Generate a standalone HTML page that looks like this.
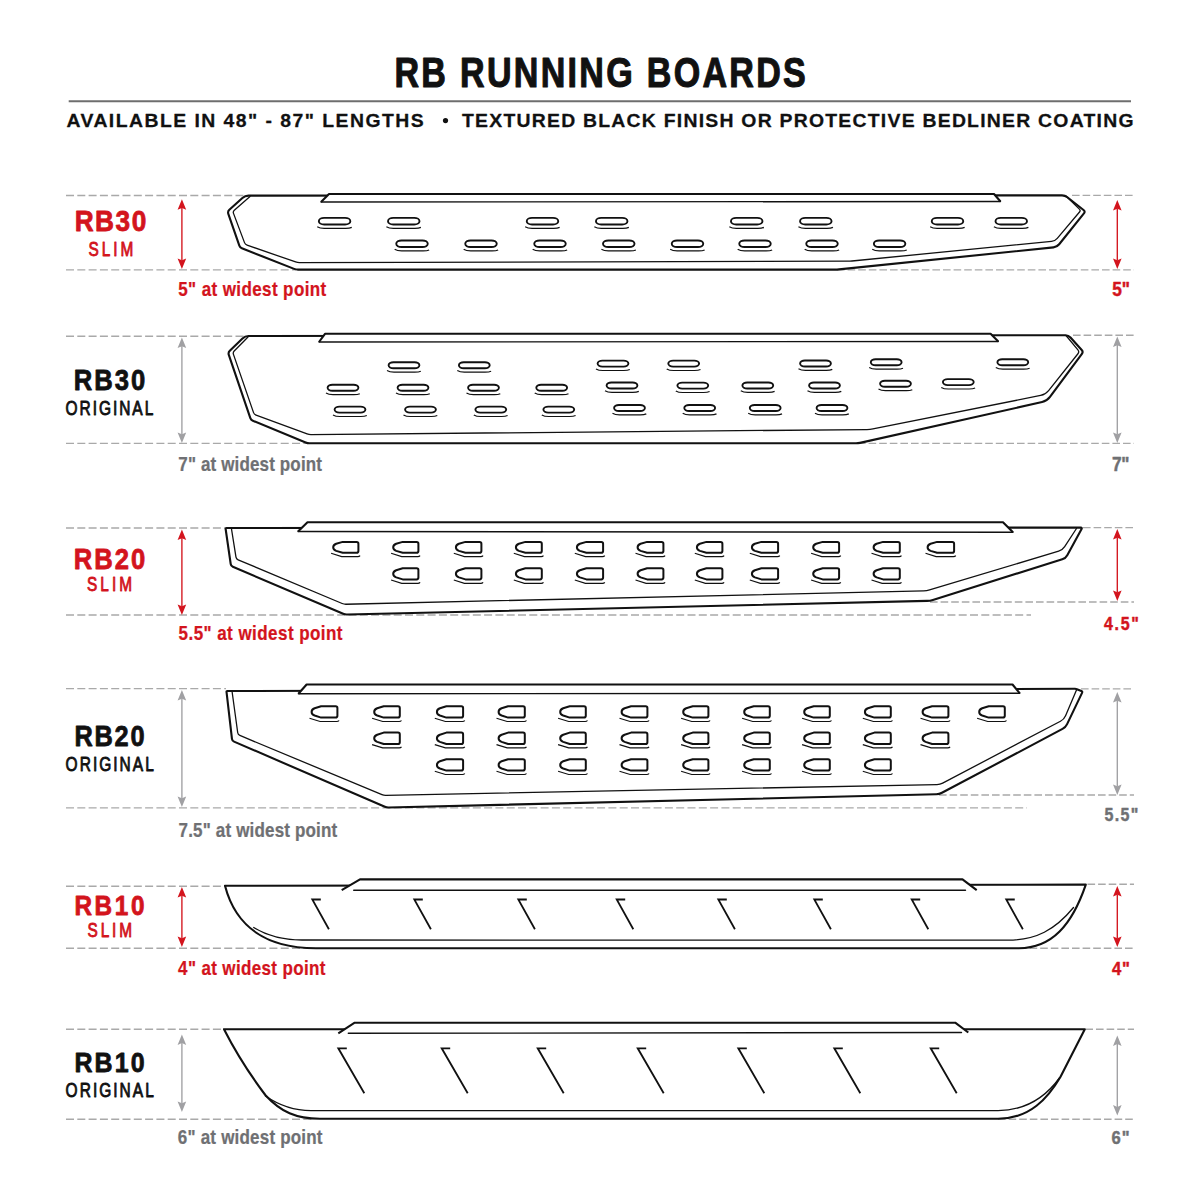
<!DOCTYPE html><html><head><meta charset="utf-8"><title>RB Running Boards</title><style>html,body{margin:0;padding:0;background:#fff;width:1200px;height:1200px;overflow:hidden}svg{display:block}text{font-family:"Liberation Sans",sans-serif}</style></head><body><svg width="1200" height="1200" viewBox="0 0 1200 1200"><rect width="1200" height="1200" fill="#fff"/>
<line x1="68.7" y1="101.2" x2="1131" y2="101.2" stroke="#6e6e6e" stroke-width="2"/>
<circle cx="445.5" cy="120.6" r="2.6" fill="#111111"/>
<line x1="66" y1="195.5" x2="247" y2="195.5" stroke="#a9a9a9" stroke-width="1.35" stroke-dasharray="8.0 3.30"/>
<line x1="1072" y1="195.3" x2="1134" y2="195.3" stroke="#a9a9a9" stroke-width="1.35" stroke-dasharray="7.6 3.00"/>
<line x1="66" y1="269.8" x2="296" y2="269.8" stroke="#a9a9a9" stroke-width="1.35" stroke-dasharray="8.0 3.30"/>
<line x1="837" y1="269.8" x2="1134" y2="269.8" stroke="#a9a9a9" stroke-width="1.35" stroke-dasharray="7.6 3.00"/>
<line x1="66" y1="336.2" x2="245" y2="336.2" stroke="#a9a9a9" stroke-width="1.35" stroke-dasharray="8.0 3.30"/>
<line x1="1073" y1="335.2" x2="1134" y2="335.2" stroke="#a9a9a9" stroke-width="1.35" stroke-dasharray="7.6 3.00"/>
<line x1="66" y1="443.3" x2="307" y2="443.3" stroke="#a9a9a9" stroke-width="1.35" stroke-dasharray="8.0 3.30"/>
<line x1="858" y1="443.3" x2="1134" y2="443.3" stroke="#a9a9a9" stroke-width="1.35" stroke-dasharray="7.6 3.00"/>
<line x1="66" y1="528.0" x2="225" y2="528.0" stroke="#a9a9a9" stroke-width="1.35" stroke-dasharray="8.0 3.30"/>
<line x1="1083" y1="527.6" x2="1134" y2="527.6" stroke="#a9a9a9" stroke-width="1.35" stroke-dasharray="7.6 3.00"/>
<line x1="930" y1="602.0" x2="1134" y2="602.0" stroke="#a9a9a9" stroke-width="1.35" stroke-dasharray="7.6 3.00"/>
<line x1="66" y1="688.6" x2="226" y2="688.6" stroke="#a9a9a9" stroke-width="1.35" stroke-dasharray="8.0 3.30"/>
<line x1="1081" y1="688.8" x2="1134" y2="688.8" stroke="#a9a9a9" stroke-width="1.35" stroke-dasharray="7.6 3.00"/>
<line x1="939" y1="795.0" x2="1134" y2="795.0" stroke="#a9a9a9" stroke-width="1.35" stroke-dasharray="7.6 3.00"/>
<line x1="66" y1="886.2" x2="225" y2="886.2" stroke="#a9a9a9" stroke-width="1.35" stroke-dasharray="8.0 3.30"/>
<line x1="1087.5" y1="884.2" x2="1134" y2="884.2" stroke="#a9a9a9" stroke-width="1.35" stroke-dasharray="7.6 3.00"/>
<line x1="66" y1="948.2" x2="312" y2="948.2" stroke="#a9a9a9" stroke-width="1.35" stroke-dasharray="8.0 3.30"/>
<line x1="1019" y1="948.2" x2="1134" y2="948.2" stroke="#a9a9a9" stroke-width="1.35" stroke-dasharray="7.6 3.00"/>
<line x1="66" y1="1029.2" x2="224" y2="1029.2" stroke="#a9a9a9" stroke-width="1.35" stroke-dasharray="8.0 3.30"/>
<line x1="1085.4" y1="1029.2" x2="1134" y2="1029.2" stroke="#a9a9a9" stroke-width="1.35" stroke-dasharray="7.6 3.00"/>
<line x1="66" y1="1119.2" x2="312" y2="1119.2" stroke="#a9a9a9" stroke-width="1.35" stroke-dasharray="8.0 3.30"/>
<line x1="998" y1="1119.2" x2="1134" y2="1119.2" stroke="#a9a9a9" stroke-width="1.35" stroke-dasharray="7.6 3.00"/>
<line x1="66" y1="615.0" x2="1031" y2="615.0" stroke="#a9a9a9" stroke-width="1.35" stroke-dasharray="8.0 3.30"/>
<line x1="66" y1="807.9" x2="1027" y2="807.9" stroke="#a9a9a9" stroke-width="1.35" stroke-dasharray="8.0 3.30"/>
<path d="M1062.00,195.40 Q1065.00,195.40 1067.36,197.25 L1083.53,209.96 Q1085.50,211.50 1083.93,213.45 L1059.19,244.27 Q1057.00,247.00 1053.52,247.36 L838.99,269.40 Q837.00,269.60 835.00,269.60 L298.00,269.60 Q296.00,269.60 294.14,268.87 L241.86,248.23 Q240.00,247.50 239.34,245.61 L228.32,213.86 Q227.50,211.50 229.35,209.82 L242.41,197.95 Q245.00,195.60 248.50,195.60 Z" fill="#fff" stroke="#111111" stroke-width="2.1" stroke-linejoin="round"/>
<path d="M250.00,196.50 L234.31,210.19 Q232.80,211.50 233.50,213.37 L244.50,242.63 Q245.20,244.50 247.09,245.15 L295.61,261.95 Q297.50,262.60 299.50,262.59 L848.00,261.21 Q850.00,261.20 851.99,261.00 L1051.52,241.34 Q1055.00,241.00 1057.26,238.33 L1079.51,212.03 Q1080.80,210.50 1079.37,209.10 L1066.00,196.00" fill="none" stroke="#111111" stroke-width="1.3" stroke-linejoin="round" stroke-linecap="round"/>
<path d="M321,202 L329,194 L994,194 L1000.5,201.5" fill="#fff" stroke="#111111" stroke-width="2.1" stroke-linejoin="round"/>
<path d="M321,202.00 L1000.5,201.50" fill="none" stroke="#111111" stroke-width="1.4" stroke-linejoin="round" stroke-linecap="round"/>
<rect x="318.85" y="217.90" width="31.5" height="6.6" rx="5.28" ry="3.3" fill="none" stroke="#111111" stroke-width="1.9"/>
<path d="M317.25,226.80 Q319.75,228.40 324.25,228.40 L345.75,228.40 Q349.75,228.40 351.75,227.40" fill="none" stroke="#111111" stroke-width="1.2"/>
<rect x="388.00" y="217.90" width="31.5" height="6.6" rx="5.28" ry="3.3" fill="none" stroke="#111111" stroke-width="1.9"/>
<path d="M386.40,226.80 Q388.90,228.40 393.40,228.40 L414.90,228.40 Q418.90,228.40 420.90,227.40" fill="none" stroke="#111111" stroke-width="1.2"/>
<rect x="526.75" y="217.90" width="31.5" height="6.6" rx="5.28" ry="3.3" fill="none" stroke="#111111" stroke-width="1.9"/>
<path d="M525.15,226.80 Q527.65,228.40 532.15,228.40 L553.65,228.40 Q557.65,228.40 559.65,227.40" fill="none" stroke="#111111" stroke-width="1.2"/>
<rect x="595.95" y="217.90" width="31.5" height="6.6" rx="5.28" ry="3.3" fill="none" stroke="#111111" stroke-width="1.9"/>
<path d="M594.35,226.80 Q596.85,228.40 601.35,228.40 L622.85,228.40 Q626.85,228.40 628.85,227.40" fill="none" stroke="#111111" stroke-width="1.2"/>
<rect x="730.95" y="217.90" width="31.5" height="6.6" rx="5.28" ry="3.3" fill="none" stroke="#111111" stroke-width="1.9"/>
<path d="M729.35,226.80 Q731.85,228.40 736.35,228.40 L757.85,228.40 Q761.85,228.40 763.85,227.40" fill="none" stroke="#111111" stroke-width="1.2"/>
<rect x="800.05" y="217.90" width="31.5" height="6.6" rx="5.28" ry="3.3" fill="none" stroke="#111111" stroke-width="1.9"/>
<path d="M798.45,226.80 Q800.95,228.40 805.45,228.40 L826.95,228.40 Q830.95,228.40 832.95,227.40" fill="none" stroke="#111111" stroke-width="1.2"/>
<rect x="931.75" y="217.90" width="31.5" height="6.6" rx="5.28" ry="3.3" fill="none" stroke="#111111" stroke-width="1.9"/>
<path d="M930.15,226.80 Q932.65,228.40 937.15,228.40 L958.65,228.40 Q962.65,228.40 964.65,227.40" fill="none" stroke="#111111" stroke-width="1.2"/>
<rect x="995.50" y="217.90" width="31.5" height="6.6" rx="5.28" ry="3.3" fill="none" stroke="#111111" stroke-width="1.9"/>
<path d="M993.90,226.80 Q996.40,228.40 1000.90,228.40 L1022.40,228.40 Q1026.40,228.40 1028.40,227.40" fill="none" stroke="#111111" stroke-width="1.2"/>
<rect x="396.25" y="240.45" width="31.5" height="6.6" rx="5.28" ry="3.3" fill="none" stroke="#111111" stroke-width="1.9"/>
<path d="M394.65,249.35 Q397.15,250.95 401.65,250.95 L423.15,250.95 Q427.15,250.95 429.15,249.95" fill="none" stroke="#111111" stroke-width="1.2"/>
<rect x="465.25" y="240.45" width="31.5" height="6.6" rx="5.28" ry="3.3" fill="none" stroke="#111111" stroke-width="1.9"/>
<path d="M463.65,249.35 Q466.15,250.95 470.65,250.95 L492.15,250.95 Q496.15,250.95 498.15,249.95" fill="none" stroke="#111111" stroke-width="1.2"/>
<rect x="534.25" y="240.45" width="31.5" height="6.6" rx="5.28" ry="3.3" fill="none" stroke="#111111" stroke-width="1.9"/>
<path d="M532.65,249.35 Q535.15,250.95 539.65,250.95 L561.15,250.95 Q565.15,250.95 567.15,249.95" fill="none" stroke="#111111" stroke-width="1.2"/>
<rect x="603.00" y="240.45" width="31.5" height="6.6" rx="5.28" ry="3.3" fill="none" stroke="#111111" stroke-width="1.9"/>
<path d="M601.40,249.35 Q603.90,250.95 608.40,250.95 L629.90,250.95 Q633.90,250.95 635.90,249.95" fill="none" stroke="#111111" stroke-width="1.2"/>
<rect x="671.75" y="240.45" width="31.5" height="6.6" rx="5.28" ry="3.3" fill="none" stroke="#111111" stroke-width="1.9"/>
<path d="M670.15,249.35 Q672.65,250.95 677.15,250.95 L698.65,250.95 Q702.65,250.95 704.65,249.95" fill="none" stroke="#111111" stroke-width="1.2"/>
<rect x="739.25" y="240.45" width="31.5" height="6.6" rx="5.28" ry="3.3" fill="none" stroke="#111111" stroke-width="1.9"/>
<path d="M737.65,249.35 Q740.15,250.95 744.65,250.95 L766.15,250.95 Q770.15,250.95 772.15,249.95" fill="none" stroke="#111111" stroke-width="1.2"/>
<rect x="806.25" y="240.45" width="31.5" height="6.6" rx="5.28" ry="3.3" fill="none" stroke="#111111" stroke-width="1.9"/>
<path d="M804.65,249.35 Q807.15,250.95 811.65,250.95 L833.15,250.95 Q837.15,250.95 839.15,249.95" fill="none" stroke="#111111" stroke-width="1.2"/>
<rect x="873.85" y="240.45" width="31.5" height="6.6" rx="5.28" ry="3.3" fill="none" stroke="#111111" stroke-width="1.9"/>
<path d="M872.25,249.35 Q874.75,250.95 879.25,250.95 L900.75,250.95 Q904.75,250.95 906.75,249.95" fill="none" stroke="#111111" stroke-width="1.2"/>
<path d="M1065.50,335.20 Q1068.50,335.20 1070.50,337.43 L1081.73,349.94 Q1083.40,351.80 1081.91,353.81 L1049.97,396.98 Q1047.00,401.00 1042.12,402.09 L859.95,442.86 Q858.00,443.30 856.00,443.30 L309.50,443.30 Q307.50,443.30 305.65,442.54 L252.85,420.76 Q251.00,420.00 250.35,418.11 L228.81,354.87 Q228.00,352.50 229.79,350.76 L242.49,338.44 Q245.00,336.00 248.50,336.00 Z" fill="#fff" stroke="#111111" stroke-width="2.1" stroke-linejoin="round"/>
<path d="M248.00,337.00 L234.20,351.07 Q232.80,352.50 233.45,354.39 L253.55,412.61 Q254.20,414.50 256.08,415.19 L307.12,433.91 Q309.00,434.60 311.00,434.58 L867.00,429.53 Q870.00,429.50 872.94,428.91 L1040.60,395.48 Q1045.50,394.50 1048.61,390.59 L1077.94,353.76 Q1079.50,351.80 1077.91,349.87 L1066.00,335.50" fill="none" stroke="#111111" stroke-width="1.3" stroke-linejoin="round" stroke-linecap="round"/>
<path d="M319,342 L325,333.8 L990.6,333.8 L998.3,341.5" fill="#fff" stroke="#111111" stroke-width="2.1" stroke-linejoin="round"/>
<path d="M319,342.00 L998.3,341.50" fill="none" stroke="#111111" stroke-width="1.4" stroke-linejoin="round" stroke-linecap="round"/>
<rect x="388.60" y="362.30" width="30.8" height="6.0" rx="4.80" ry="3.0" fill="none" stroke="#111111" stroke-width="1.9"/>
<path d="M387.00,370.60 Q389.50,372.20 394.00,372.20 L414.80,372.20 Q418.80,372.20 420.80,371.20" fill="none" stroke="#111111" stroke-width="1.2"/>
<rect x="458.90" y="362.30" width="30.8" height="6.0" rx="4.80" ry="3.0" fill="none" stroke="#111111" stroke-width="1.9"/>
<path d="M457.30,370.60 Q459.80,372.20 464.30,372.20 L485.10,372.20 Q489.10,372.20 491.10,371.20" fill="none" stroke="#111111" stroke-width="1.2"/>
<rect x="597.60" y="360.60" width="30.8" height="6.0" rx="4.80" ry="3.0" fill="none" stroke="#111111" stroke-width="1.9"/>
<path d="M596.00,368.90 Q598.50,370.50 603.00,370.50 L623.80,370.50 Q627.80,370.50 629.80,369.50" fill="none" stroke="#111111" stroke-width="1.2"/>
<rect x="668.30" y="360.60" width="30.8" height="6.0" rx="4.80" ry="3.0" fill="none" stroke="#111111" stroke-width="1.9"/>
<path d="M666.70,368.90 Q669.20,370.50 673.70,370.50 L694.50,370.50 Q698.50,370.50 700.50,369.50" fill="none" stroke="#111111" stroke-width="1.2"/>
<rect x="800.10" y="360.50" width="30.8" height="6.0" rx="4.80" ry="3.0" fill="none" stroke="#111111" stroke-width="1.9"/>
<path d="M798.50,368.80 Q801.00,370.40 805.50,370.40 L826.30,370.40 Q830.30,370.40 832.30,369.40" fill="none" stroke="#111111" stroke-width="1.2"/>
<rect x="870.80" y="359.30" width="30.8" height="6.0" rx="4.80" ry="3.0" fill="none" stroke="#111111" stroke-width="1.9"/>
<path d="M869.20,367.60 Q871.70,369.20 876.20,369.20 L897.00,369.20 Q901.00,369.20 903.00,368.20" fill="none" stroke="#111111" stroke-width="1.2"/>
<rect x="997.40" y="359.30" width="30.8" height="6.0" rx="4.80" ry="3.0" fill="none" stroke="#111111" stroke-width="1.9"/>
<path d="M995.80,367.60 Q998.30,369.20 1002.80,369.20 L1023.60,369.20 Q1027.60,369.20 1029.60,368.20" fill="none" stroke="#111111" stroke-width="1.2"/>
<rect x="327.60" y="384.80" width="30.8" height="6.0" rx="4.80" ry="3.0" fill="none" stroke="#111111" stroke-width="1.9"/>
<path d="M326.00,393.10 Q328.50,394.70 333.00,394.70 L353.80,394.70 Q357.80,394.70 359.80,393.70" fill="none" stroke="#111111" stroke-width="1.2"/>
<rect x="397.60" y="384.80" width="30.8" height="6.0" rx="4.80" ry="3.0" fill="none" stroke="#111111" stroke-width="1.9"/>
<path d="M396.00,393.10 Q398.50,394.70 403.00,394.70 L423.80,394.70 Q427.80,394.70 429.80,393.70" fill="none" stroke="#111111" stroke-width="1.2"/>
<rect x="468.10" y="384.80" width="30.8" height="6.0" rx="4.80" ry="3.0" fill="none" stroke="#111111" stroke-width="1.9"/>
<path d="M466.50,393.10 Q469.00,394.70 473.50,394.70 L494.30,394.70 Q498.30,394.70 500.30,393.70" fill="none" stroke="#111111" stroke-width="1.2"/>
<rect x="536.30" y="384.80" width="30.8" height="6.0" rx="4.80" ry="3.0" fill="none" stroke="#111111" stroke-width="1.9"/>
<path d="M534.70,393.10 Q537.20,394.70 541.70,394.70 L562.50,394.70 Q566.50,394.70 568.50,393.70" fill="none" stroke="#111111" stroke-width="1.2"/>
<rect x="606.60" y="382.50" width="30.8" height="6.0" rx="4.80" ry="3.0" fill="none" stroke="#111111" stroke-width="1.9"/>
<path d="M605.00,390.80 Q607.50,392.40 612.00,392.40 L632.80,392.40 Q636.80,392.40 638.80,391.40" fill="none" stroke="#111111" stroke-width="1.2"/>
<rect x="677.40" y="382.60" width="30.8" height="6.0" rx="4.80" ry="3.0" fill="none" stroke="#111111" stroke-width="1.9"/>
<path d="M675.80,390.90 Q678.30,392.50 682.80,392.50 L703.60,392.50 Q707.60,392.50 709.60,391.50" fill="none" stroke="#111111" stroke-width="1.2"/>
<rect x="742.40" y="382.50" width="30.8" height="6.0" rx="4.80" ry="3.0" fill="none" stroke="#111111" stroke-width="1.9"/>
<path d="M740.80,390.80 Q743.30,392.40 747.80,392.40 L768.60,392.40 Q772.60,392.40 774.60,391.40" fill="none" stroke="#111111" stroke-width="1.2"/>
<rect x="809.10" y="382.50" width="30.8" height="6.0" rx="4.80" ry="3.0" fill="none" stroke="#111111" stroke-width="1.9"/>
<path d="M807.50,390.80 Q810.00,392.40 814.50,392.40 L835.30,392.40 Q839.30,392.40 841.30,391.40" fill="none" stroke="#111111" stroke-width="1.2"/>
<rect x="880.10" y="380.80" width="30.8" height="6.0" rx="4.80" ry="3.0" fill="none" stroke="#111111" stroke-width="1.9"/>
<path d="M878.50,389.10 Q881.00,390.70 885.50,390.70 L906.30,390.70 Q910.30,390.70 912.30,389.70" fill="none" stroke="#111111" stroke-width="1.2"/>
<rect x="942.90" y="379.10" width="30.8" height="6.0" rx="4.80" ry="3.0" fill="none" stroke="#111111" stroke-width="1.9"/>
<path d="M941.30,387.40 Q943.80,389.00 948.30,389.00 L969.10,389.00 Q973.10,389.00 975.10,388.00" fill="none" stroke="#111111" stroke-width="1.2"/>
<rect x="334.60" y="406.60" width="30.8" height="6.0" rx="4.80" ry="3.0" fill="none" stroke="#111111" stroke-width="1.9"/>
<path d="M333.00,414.90 Q335.50,416.50 340.00,416.50 L360.80,416.50 Q364.80,416.50 366.80,415.50" fill="none" stroke="#111111" stroke-width="1.2"/>
<rect x="405.10" y="406.60" width="30.8" height="6.0" rx="4.80" ry="3.0" fill="none" stroke="#111111" stroke-width="1.9"/>
<path d="M403.50,414.90 Q406.00,416.50 410.50,416.50 L431.30,416.50 Q435.30,416.50 437.30,415.50" fill="none" stroke="#111111" stroke-width="1.2"/>
<rect x="475.40" y="406.60" width="30.8" height="6.0" rx="4.80" ry="3.0" fill="none" stroke="#111111" stroke-width="1.9"/>
<path d="M473.80,414.90 Q476.30,416.50 480.80,416.50 L501.60,416.50 Q505.60,416.50 507.60,415.50" fill="none" stroke="#111111" stroke-width="1.2"/>
<rect x="543.40" y="406.60" width="30.8" height="6.0" rx="4.80" ry="3.0" fill="none" stroke="#111111" stroke-width="1.9"/>
<path d="M541.80,414.90 Q544.30,416.50 548.80,416.50 L569.60,416.50 Q573.60,416.50 575.60,415.50" fill="none" stroke="#111111" stroke-width="1.2"/>
<rect x="614.10" y="405.00" width="30.8" height="6.0" rx="4.80" ry="3.0" fill="none" stroke="#111111" stroke-width="1.9"/>
<path d="M612.50,413.30 Q615.00,414.90 619.50,414.90 L640.30,414.90 Q644.30,414.90 646.30,413.90" fill="none" stroke="#111111" stroke-width="1.2"/>
<rect x="684.30" y="405.00" width="30.8" height="6.0" rx="4.80" ry="3.0" fill="none" stroke="#111111" stroke-width="1.9"/>
<path d="M682.70,413.30 Q685.20,414.90 689.70,414.90 L710.50,414.90 Q714.50,414.90 716.50,413.90" fill="none" stroke="#111111" stroke-width="1.2"/>
<rect x="749.80" y="405.00" width="30.8" height="6.0" rx="4.80" ry="3.0" fill="none" stroke="#111111" stroke-width="1.9"/>
<path d="M748.20,413.30 Q750.70,414.90 755.20,414.90 L776.00,414.90 Q780.00,414.90 782.00,413.90" fill="none" stroke="#111111" stroke-width="1.2"/>
<rect x="816.60" y="405.00" width="30.8" height="6.0" rx="4.80" ry="3.0" fill="none" stroke="#111111" stroke-width="1.9"/>
<path d="M815.00,413.30 Q817.50,414.90 822.00,414.90 L842.80,414.90 Q846.80,414.90 848.80,413.90" fill="none" stroke="#111111" stroke-width="1.2"/>
<path d="M1080.80,527.60 Q1082.30,527.60 1081.58,528.92 L1067.27,555.23 Q1065.60,558.30 1062.26,559.35 L932.86,599.90 Q930.00,600.80 927.00,600.87 L347.00,614.55 Q345.00,614.60 343.16,613.82 L232.84,566.78 Q231.00,566.00 230.71,564.02 L225.64,528.99 Q225.50,528.00 226.50,528.00 Z" fill="#fff" stroke="#111111" stroke-width="2.1" stroke-linejoin="round"/>
<path d="M231.50,529.00 L235.98,557.03 Q236.30,559.00 238.14,559.78 L342.16,603.52 Q344.00,604.30 346.00,604.25 L923.70,590.87 Q926.70,590.80 929.57,589.94 L1058.67,551.15 Q1062.50,550.00 1064.68,546.65 L1076.50,528.50" fill="none" stroke="#111111" stroke-width="1.3" stroke-linejoin="round" stroke-linecap="round"/>
<path d="M298,531.5 L307.5,522.2 L1003,522.2 L1013,532.3" fill="#fff" stroke="#111111" stroke-width="2.1" stroke-linejoin="round"/>
<path d="M298,531.50 L1013,532.30" fill="none" stroke="#111111" stroke-width="1.4" stroke-linejoin="round" stroke-linecap="round"/>
<path d="M333.20,547.30 C333.20,545.10 334.70,544.30 336.20,543.70 L342.70,541.90 L356.60,541.90 Q358.40,541.90 358.40,543.70 L358.40,550.90 Q358.40,552.70 356.60,552.70 L342.70,552.70 L336.20,550.90 C334.70,550.30 333.20,549.50 333.20,547.30 Z" fill="none" stroke="#111111" stroke-width="2.0" stroke-linejoin="round"/>
<path d="M331.10,553.30 L341.70,556.60 L357.80,556.60 Q359.30,556.60 360.10,555.60" fill="none" stroke="#111111" stroke-width="1.2"/>
<path d="M393.20,547.30 C393.20,545.10 394.70,544.30 396.20,543.70 L402.70,541.90 L416.60,541.90 Q418.40,541.90 418.40,543.70 L418.40,550.90 Q418.40,552.70 416.60,552.70 L402.70,552.70 L396.20,550.90 C394.70,550.30 393.20,549.50 393.20,547.30 Z" fill="none" stroke="#111111" stroke-width="2.0" stroke-linejoin="round"/>
<path d="M391.10,553.30 L401.70,556.60 L417.80,556.60 Q419.30,556.60 420.10,555.60" fill="none" stroke="#111111" stroke-width="1.2"/>
<path d="M455.90,547.30 C455.90,545.10 457.40,544.30 458.90,543.70 L465.40,541.90 L479.60,541.90 Q481.40,541.90 481.40,543.70 L481.40,550.90 Q481.40,552.70 479.60,552.70 L465.40,552.70 L458.90,550.90 C457.40,550.30 455.90,549.50 455.90,547.30 Z" fill="none" stroke="#111111" stroke-width="2.0" stroke-linejoin="round"/>
<path d="M453.80,553.30 L464.40,556.60 L480.80,556.60 Q482.30,556.60 483.10,555.60" fill="none" stroke="#111111" stroke-width="1.2"/>
<path d="M515.90,547.30 C515.90,545.10 517.40,544.30 518.90,543.70 L525.40,541.90 L540.00,541.90 Q541.80,541.90 541.80,543.70 L541.80,550.90 Q541.80,552.70 540.00,552.70 L525.40,552.70 L518.90,550.90 C517.40,550.30 515.90,549.50 515.90,547.30 Z" fill="none" stroke="#111111" stroke-width="2.0" stroke-linejoin="round"/>
<path d="M513.80,553.30 L524.40,556.60 L541.20,556.60 Q542.70,556.60 543.50,555.60" fill="none" stroke="#111111" stroke-width="1.2"/>
<path d="M576.90,547.30 C576.90,545.10 578.40,544.30 579.90,543.70 L586.40,541.90 L601.30,541.90 Q603.10,541.90 603.10,543.70 L603.10,550.90 Q603.10,552.70 601.30,552.70 L586.40,552.70 L579.90,550.90 C578.40,550.30 576.90,549.50 576.90,547.30 Z" fill="none" stroke="#111111" stroke-width="2.0" stroke-linejoin="round"/>
<path d="M574.80,553.30 L585.40,556.60 L602.50,556.60 Q604.00,556.60 604.80,555.60" fill="none" stroke="#111111" stroke-width="1.2"/>
<path d="M637.60,547.30 C637.60,545.10 639.10,544.30 640.60,543.70 L647.10,541.90 L661.60,541.90 Q663.40,541.90 663.40,543.70 L663.40,550.90 Q663.40,552.70 661.60,552.70 L647.10,552.70 L640.60,550.90 C639.10,550.30 637.60,549.50 637.60,547.30 Z" fill="none" stroke="#111111" stroke-width="2.0" stroke-linejoin="round"/>
<path d="M635.50,553.30 L646.10,556.60 L662.80,556.60 Q664.30,556.60 665.10,555.60" fill="none" stroke="#111111" stroke-width="1.2"/>
<path d="M696.90,547.30 C696.90,545.10 698.40,544.30 699.90,543.70 L706.40,541.90 L720.60,541.90 Q722.40,541.90 722.40,543.70 L722.40,550.90 Q722.40,552.70 720.60,552.70 L706.40,552.70 L699.90,550.90 C698.40,550.30 696.90,549.50 696.90,547.30 Z" fill="none" stroke="#111111" stroke-width="2.0" stroke-linejoin="round"/>
<path d="M694.80,553.30 L705.40,556.60 L721.80,556.60 Q723.30,556.60 724.10,555.60" fill="none" stroke="#111111" stroke-width="1.2"/>
<path d="M751.90,547.30 C751.90,545.10 753.40,544.30 754.90,543.70 L761.40,541.90 L776.30,541.90 Q778.10,541.90 778.10,543.70 L778.10,550.90 Q778.10,552.70 776.30,552.70 L761.40,552.70 L754.90,550.90 C753.40,550.30 751.90,549.50 751.90,547.30 Z" fill="none" stroke="#111111" stroke-width="2.0" stroke-linejoin="round"/>
<path d="M749.80,553.30 L760.40,556.60 L777.50,556.60 Q779.00,556.60 779.80,555.60" fill="none" stroke="#111111" stroke-width="1.2"/>
<path d="M813.20,547.30 C813.20,545.10 814.70,544.30 816.20,543.70 L822.70,541.90 L837.30,541.90 Q839.10,541.90 839.10,543.70 L839.10,550.90 Q839.10,552.70 837.30,552.70 L822.70,552.70 L816.20,550.90 C814.70,550.30 813.20,549.50 813.20,547.30 Z" fill="none" stroke="#111111" stroke-width="2.0" stroke-linejoin="round"/>
<path d="M811.10,553.30 L821.70,556.60 L838.50,556.60 Q840.00,556.60 840.80,555.60" fill="none" stroke="#111111" stroke-width="1.2"/>
<path d="M873.60,547.30 C873.60,545.10 875.10,544.30 876.60,543.70 L883.10,541.90 L898.00,541.90 Q899.80,541.90 899.80,543.70 L899.80,550.90 Q899.80,552.70 898.00,552.70 L883.10,552.70 L876.60,550.90 C875.10,550.30 873.60,549.50 873.60,547.30 Z" fill="none" stroke="#111111" stroke-width="2.0" stroke-linejoin="round"/>
<path d="M871.50,553.30 L882.10,556.60 L899.20,556.60 Q900.70,556.60 901.50,555.60" fill="none" stroke="#111111" stroke-width="1.2"/>
<path d="M927.60,547.30 C927.60,545.10 929.10,544.30 930.60,543.70 L937.10,541.90 L952.30,541.90 Q954.10,541.90 954.10,543.70 L954.10,550.90 Q954.10,552.70 952.30,552.70 L937.10,552.70 L930.60,550.90 C929.10,550.30 927.60,549.50 927.60,547.30 Z" fill="none" stroke="#111111" stroke-width="2.0" stroke-linejoin="round"/>
<path d="M925.50,553.30 L936.10,556.60 L953.50,556.60 Q955.00,556.60 955.80,555.60" fill="none" stroke="#111111" stroke-width="1.2"/>
<path d="M393.20,573.80 C393.20,571.60 394.70,570.80 396.20,570.20 L402.70,568.20 L416.60,568.20 Q418.40,568.20 418.40,570.00 L418.40,577.60 Q418.40,579.40 416.60,579.40 L402.70,579.40 L396.20,577.40 C394.70,576.80 393.20,576.00 393.20,573.80 Z" fill="none" stroke="#111111" stroke-width="2.0" stroke-linejoin="round"/>
<path d="M391.10,580.00 L401.70,583.30 L417.80,583.30 Q419.30,583.30 420.10,582.30" fill="none" stroke="#111111" stroke-width="1.2"/>
<path d="M455.90,573.80 C455.90,571.60 457.40,570.80 458.90,570.20 L465.40,568.20 L479.60,568.20 Q481.40,568.20 481.40,570.00 L481.40,577.60 Q481.40,579.40 479.60,579.40 L465.40,579.40 L458.90,577.40 C457.40,576.80 455.90,576.00 455.90,573.80 Z" fill="none" stroke="#111111" stroke-width="2.0" stroke-linejoin="round"/>
<path d="M453.80,580.00 L464.40,583.30 L480.80,583.30 Q482.30,583.30 483.10,582.30" fill="none" stroke="#111111" stroke-width="1.2"/>
<path d="M515.90,573.80 C515.90,571.60 517.40,570.80 518.90,570.20 L525.40,568.20 L540.00,568.20 Q541.80,568.20 541.80,570.00 L541.80,577.60 Q541.80,579.40 540.00,579.40 L525.40,579.40 L518.90,577.40 C517.40,576.80 515.90,576.00 515.90,573.80 Z" fill="none" stroke="#111111" stroke-width="2.0" stroke-linejoin="round"/>
<path d="M513.80,580.00 L524.40,583.30 L541.20,583.30 Q542.70,583.30 543.50,582.30" fill="none" stroke="#111111" stroke-width="1.2"/>
<path d="M576.90,573.80 C576.90,571.60 578.40,570.80 579.90,570.20 L586.40,568.20 L601.30,568.20 Q603.10,568.20 603.10,570.00 L603.10,577.60 Q603.10,579.40 601.30,579.40 L586.40,579.40 L579.90,577.40 C578.40,576.80 576.90,576.00 576.90,573.80 Z" fill="none" stroke="#111111" stroke-width="2.0" stroke-linejoin="round"/>
<path d="M574.80,580.00 L585.40,583.30 L602.50,583.30 Q604.00,583.30 604.80,582.30" fill="none" stroke="#111111" stroke-width="1.2"/>
<path d="M637.60,573.80 C637.60,571.60 639.10,570.80 640.60,570.20 L647.10,568.20 L661.60,568.20 Q663.40,568.20 663.40,570.00 L663.40,577.60 Q663.40,579.40 661.60,579.40 L647.10,579.40 L640.60,577.40 C639.10,576.80 637.60,576.00 637.60,573.80 Z" fill="none" stroke="#111111" stroke-width="2.0" stroke-linejoin="round"/>
<path d="M635.50,580.00 L646.10,583.30 L662.80,583.30 Q664.30,583.30 665.10,582.30" fill="none" stroke="#111111" stroke-width="1.2"/>
<path d="M696.90,573.80 C696.90,571.60 698.40,570.80 699.90,570.20 L706.40,568.20 L720.60,568.20 Q722.40,568.20 722.40,570.00 L722.40,577.60 Q722.40,579.40 720.60,579.40 L706.40,579.40 L699.90,577.40 C698.40,576.80 696.90,576.00 696.90,573.80 Z" fill="none" stroke="#111111" stroke-width="2.0" stroke-linejoin="round"/>
<path d="M694.80,580.00 L705.40,583.30 L721.80,583.30 Q723.30,583.30 724.10,582.30" fill="none" stroke="#111111" stroke-width="1.2"/>
<path d="M751.90,573.80 C751.90,571.60 753.40,570.80 754.90,570.20 L761.40,568.20 L776.30,568.20 Q778.10,568.20 778.10,570.00 L778.10,577.60 Q778.10,579.40 776.30,579.40 L761.40,579.40 L754.90,577.40 C753.40,576.80 751.90,576.00 751.90,573.80 Z" fill="none" stroke="#111111" stroke-width="2.0" stroke-linejoin="round"/>
<path d="M749.80,580.00 L760.40,583.30 L777.50,583.30 Q779.00,583.30 779.80,582.30" fill="none" stroke="#111111" stroke-width="1.2"/>
<path d="M813.20,573.80 C813.20,571.60 814.70,570.80 816.20,570.20 L822.70,568.20 L837.30,568.20 Q839.10,568.20 839.10,570.00 L839.10,577.60 Q839.10,579.40 837.30,579.40 L822.70,579.40 L816.20,577.40 C814.70,576.80 813.20,576.00 813.20,573.80 Z" fill="none" stroke="#111111" stroke-width="2.0" stroke-linejoin="round"/>
<path d="M811.10,580.00 L821.70,583.30 L838.50,583.30 Q840.00,583.30 840.80,582.30" fill="none" stroke="#111111" stroke-width="1.2"/>
<path d="M873.60,573.80 C873.60,571.60 875.10,570.80 876.60,570.20 L883.10,568.20 L898.00,568.20 Q899.80,568.20 899.80,570.00 L899.80,577.60 Q899.80,579.40 898.00,579.40 L883.10,579.40 L876.60,577.40 C875.10,576.80 873.60,576.00 873.60,573.80 Z" fill="none" stroke="#111111" stroke-width="2.0" stroke-linejoin="round"/>
<path d="M871.50,580.00 L882.10,583.30 L899.20,583.30 Q900.70,583.30 901.50,582.30" fill="none" stroke="#111111" stroke-width="1.2"/>
<path d="M1075.00,688.80 Q1076.00,688.80 1076.93,689.17 L1081.31,690.94 Q1082.70,691.50 1082.05,692.85 L1067.11,724.14 Q1065.60,727.30 1062.51,728.94 L941.95,792.80 Q939.30,794.20 936.30,794.27 L388.70,807.55 Q386.70,807.60 384.86,806.81 L234.04,741.59 Q232.20,740.80 231.97,738.81 L226.52,691.99 Q226.40,691.00 227.40,691.00 Z" fill="#fff" stroke="#111111" stroke-width="2.1" stroke-linejoin="round"/>
<path d="M232.00,691.00 L237.73,732.72 Q238.00,734.70 239.85,735.47 L381.95,794.63 Q383.80,795.40 385.80,795.36 L937.00,784.56 Q940.00,784.50 942.66,783.11 L1060.46,721.26 Q1064.00,719.40 1065.57,715.72 L1076.50,690.00" fill="none" stroke="#111111" stroke-width="1.3" stroke-linejoin="round" stroke-linecap="round"/>
<path d="M298.4,693.8 L306.6,684.5 L1012.5,684.5 L1019.8,693.3" fill="#fff" stroke="#111111" stroke-width="2.1" stroke-linejoin="round"/>
<path d="M298.4,693.80 L1019.8,693.30" fill="none" stroke="#111111" stroke-width="1.4" stroke-linejoin="round" stroke-linecap="round"/>
<path d="M311.60,711.90 C311.60,709.70 313.10,708.90 314.60,708.30 L321.10,706.20 L335.60,706.20 Q337.40,706.20 337.40,708.00 L337.40,715.80 Q337.40,717.60 335.60,717.60 L321.10,717.60 L314.60,715.50 C313.10,714.90 311.60,714.10 311.60,711.90 Z" fill="none" stroke="#111111" stroke-width="2.0" stroke-linejoin="round"/>
<path d="M309.50,718.20 L320.10,721.50 L336.80,721.50 Q338.30,721.50 339.10,720.50" fill="none" stroke="#111111" stroke-width="1.2"/>
<path d="M374.20,711.90 C374.20,709.70 375.70,708.90 377.20,708.30 L383.70,706.20 L398.00,706.20 Q399.80,706.20 399.80,708.00 L399.80,715.80 Q399.80,717.60 398.00,717.60 L383.70,717.60 L377.20,715.50 C375.70,714.90 374.20,714.10 374.20,711.90 Z" fill="none" stroke="#111111" stroke-width="2.0" stroke-linejoin="round"/>
<path d="M372.10,718.20 L382.70,721.50 L399.20,721.50 Q400.70,721.50 401.50,720.50" fill="none" stroke="#111111" stroke-width="1.2"/>
<path d="M436.90,711.90 C436.90,709.70 438.40,708.90 439.90,708.30 L446.40,706.20 L461.30,706.20 Q463.10,706.20 463.10,708.00 L463.10,715.80 Q463.10,717.60 461.30,717.60 L446.40,717.60 L439.90,715.50 C438.40,714.90 436.90,714.10 436.90,711.90 Z" fill="none" stroke="#111111" stroke-width="2.0" stroke-linejoin="round"/>
<path d="M434.80,718.20 L445.40,721.50 L462.50,721.50 Q464.00,721.50 464.80,720.50" fill="none" stroke="#111111" stroke-width="1.2"/>
<path d="M498.60,711.90 C498.60,709.70 500.10,708.90 501.60,708.30 L508.10,706.20 L523.00,706.20 Q524.80,706.20 524.80,708.00 L524.80,715.80 Q524.80,717.60 523.00,717.60 L508.10,717.60 L501.60,715.50 C500.10,714.90 498.60,714.10 498.60,711.90 Z" fill="none" stroke="#111111" stroke-width="2.0" stroke-linejoin="round"/>
<path d="M496.50,718.20 L507.10,721.50 L524.20,721.50 Q525.70,721.50 526.50,720.50" fill="none" stroke="#111111" stroke-width="1.2"/>
<path d="M560.20,711.90 C560.20,709.70 561.70,708.90 563.20,708.30 L569.70,706.20 L584.00,706.20 Q585.80,706.20 585.80,708.00 L585.80,715.80 Q585.80,717.60 584.00,717.60 L569.70,717.60 L563.20,715.50 C561.70,714.90 560.20,714.10 560.20,711.90 Z" fill="none" stroke="#111111" stroke-width="2.0" stroke-linejoin="round"/>
<path d="M558.10,718.20 L568.70,721.50 L585.20,721.50 Q586.70,721.50 587.50,720.50" fill="none" stroke="#111111" stroke-width="1.2"/>
<path d="M621.60,711.90 C621.60,709.70 623.10,708.90 624.60,708.30 L631.10,706.20 L645.60,706.20 Q647.40,706.20 647.40,708.00 L647.40,715.80 Q647.40,717.60 645.60,717.60 L631.10,717.60 L624.60,715.50 C623.10,714.90 621.60,714.10 621.60,711.90 Z" fill="none" stroke="#111111" stroke-width="2.0" stroke-linejoin="round"/>
<path d="M619.50,718.20 L630.10,721.50 L646.80,721.50 Q648.30,721.50 649.10,720.50" fill="none" stroke="#111111" stroke-width="1.2"/>
<path d="M683.20,711.90 C683.20,709.70 684.70,708.90 686.20,708.30 L692.70,706.20 L706.60,706.20 Q708.40,706.20 708.40,708.00 L708.40,715.80 Q708.40,717.60 706.60,717.60 L692.70,717.60 L686.20,715.50 C684.70,714.90 683.20,714.10 683.20,711.90 Z" fill="none" stroke="#111111" stroke-width="2.0" stroke-linejoin="round"/>
<path d="M681.10,718.20 L691.70,721.50 L707.80,721.50 Q709.30,721.50 710.10,720.50" fill="none" stroke="#111111" stroke-width="1.2"/>
<path d="M744.20,711.90 C744.20,709.70 745.70,708.90 747.20,708.30 L753.70,706.20 L768.00,706.20 Q769.80,706.20 769.80,708.00 L769.80,715.80 Q769.80,717.60 768.00,717.60 L753.70,717.60 L747.20,715.50 C745.70,714.90 744.20,714.10 744.20,711.90 Z" fill="none" stroke="#111111" stroke-width="2.0" stroke-linejoin="round"/>
<path d="M742.10,718.20 L752.70,721.50 L769.20,721.50 Q770.70,721.50 771.50,720.50" fill="none" stroke="#111111" stroke-width="1.2"/>
<path d="M804.20,711.90 C804.20,709.70 805.70,708.90 807.20,708.30 L813.70,706.20 L828.00,706.20 Q829.80,706.20 829.80,708.00 L829.80,715.80 Q829.80,717.60 828.00,717.60 L813.70,717.60 L807.20,715.50 C805.70,714.90 804.20,714.10 804.20,711.90 Z" fill="none" stroke="#111111" stroke-width="2.0" stroke-linejoin="round"/>
<path d="M802.10,718.20 L812.70,721.50 L829.20,721.50 Q830.70,721.50 831.50,720.50" fill="none" stroke="#111111" stroke-width="1.2"/>
<path d="M864.90,711.90 C864.90,709.70 866.40,708.90 867.90,708.30 L874.40,706.20 L889.00,706.20 Q890.80,706.20 890.80,708.00 L890.80,715.80 Q890.80,717.60 889.00,717.60 L874.40,717.60 L867.90,715.50 C866.40,714.90 864.90,714.10 864.90,711.90 Z" fill="none" stroke="#111111" stroke-width="2.0" stroke-linejoin="round"/>
<path d="M862.80,718.20 L873.40,721.50 L890.20,721.50 Q891.70,721.50 892.50,720.50" fill="none" stroke="#111111" stroke-width="1.2"/>
<path d="M922.60,711.90 C922.60,709.70 924.10,708.90 925.60,708.30 L932.10,706.20 L946.60,706.20 Q948.40,706.20 948.40,708.00 L948.40,715.80 Q948.40,717.60 946.60,717.60 L932.10,717.60 L925.60,715.50 C924.10,714.90 922.60,714.10 922.60,711.90 Z" fill="none" stroke="#111111" stroke-width="2.0" stroke-linejoin="round"/>
<path d="M920.50,718.20 L931.10,721.50 L947.80,721.50 Q949.30,721.50 950.10,720.50" fill="none" stroke="#111111" stroke-width="1.2"/>
<path d="M979.20,711.90 C979.20,709.70 980.70,708.90 982.20,708.30 L988.70,706.20 L1003.00,706.20 Q1004.80,706.20 1004.80,708.00 L1004.80,715.80 Q1004.80,717.60 1003.00,717.60 L988.70,717.60 L982.20,715.50 C980.70,714.90 979.20,714.10 979.20,711.90 Z" fill="none" stroke="#111111" stroke-width="2.0" stroke-linejoin="round"/>
<path d="M977.10,718.20 L987.70,721.50 L1004.20,721.50 Q1005.70,721.50 1006.50,720.50" fill="none" stroke="#111111" stroke-width="1.2"/>
<path d="M374.20,738.30 C374.20,736.10 375.70,735.30 377.20,734.70 L383.70,732.60 L398.00,732.60 Q399.80,732.60 399.80,734.40 L399.80,742.20 Q399.80,744.00 398.00,744.00 L383.70,744.00 L377.20,741.90 C375.70,741.30 374.20,740.50 374.20,738.30 Z" fill="none" stroke="#111111" stroke-width="2.0" stroke-linejoin="round"/>
<path d="M372.10,744.60 L382.70,747.90 L399.20,747.90 Q400.70,747.90 401.50,746.90" fill="none" stroke="#111111" stroke-width="1.2"/>
<path d="M436.90,738.30 C436.90,736.10 438.40,735.30 439.90,734.70 L446.40,732.60 L461.30,732.60 Q463.10,732.60 463.10,734.40 L463.10,742.20 Q463.10,744.00 461.30,744.00 L446.40,744.00 L439.90,741.90 C438.40,741.30 436.90,740.50 436.90,738.30 Z" fill="none" stroke="#111111" stroke-width="2.0" stroke-linejoin="round"/>
<path d="M434.80,744.60 L445.40,747.90 L462.50,747.90 Q464.00,747.90 464.80,746.90" fill="none" stroke="#111111" stroke-width="1.2"/>
<path d="M498.60,738.30 C498.60,736.10 500.10,735.30 501.60,734.70 L508.10,732.60 L523.00,732.60 Q524.80,732.60 524.80,734.40 L524.80,742.20 Q524.80,744.00 523.00,744.00 L508.10,744.00 L501.60,741.90 C500.10,741.30 498.60,740.50 498.60,738.30 Z" fill="none" stroke="#111111" stroke-width="2.0" stroke-linejoin="round"/>
<path d="M496.50,744.60 L507.10,747.90 L524.20,747.90 Q525.70,747.90 526.50,746.90" fill="none" stroke="#111111" stroke-width="1.2"/>
<path d="M560.20,738.30 C560.20,736.10 561.70,735.30 563.20,734.70 L569.70,732.60 L584.00,732.60 Q585.80,732.60 585.80,734.40 L585.80,742.20 Q585.80,744.00 584.00,744.00 L569.70,744.00 L563.20,741.90 C561.70,741.30 560.20,740.50 560.20,738.30 Z" fill="none" stroke="#111111" stroke-width="2.0" stroke-linejoin="round"/>
<path d="M558.10,744.60 L568.70,747.90 L585.20,747.90 Q586.70,747.90 587.50,746.90" fill="none" stroke="#111111" stroke-width="1.2"/>
<path d="M621.60,738.30 C621.60,736.10 623.10,735.30 624.60,734.70 L631.10,732.60 L645.60,732.60 Q647.40,732.60 647.40,734.40 L647.40,742.20 Q647.40,744.00 645.60,744.00 L631.10,744.00 L624.60,741.90 C623.10,741.30 621.60,740.50 621.60,738.30 Z" fill="none" stroke="#111111" stroke-width="2.0" stroke-linejoin="round"/>
<path d="M619.50,744.60 L630.10,747.90 L646.80,747.90 Q648.30,747.90 649.10,746.90" fill="none" stroke="#111111" stroke-width="1.2"/>
<path d="M683.20,738.30 C683.20,736.10 684.70,735.30 686.20,734.70 L692.70,732.60 L706.60,732.60 Q708.40,732.60 708.40,734.40 L708.40,742.20 Q708.40,744.00 706.60,744.00 L692.70,744.00 L686.20,741.90 C684.70,741.30 683.20,740.50 683.20,738.30 Z" fill="none" stroke="#111111" stroke-width="2.0" stroke-linejoin="round"/>
<path d="M681.10,744.60 L691.70,747.90 L707.80,747.90 Q709.30,747.90 710.10,746.90" fill="none" stroke="#111111" stroke-width="1.2"/>
<path d="M744.20,738.30 C744.20,736.10 745.70,735.30 747.20,734.70 L753.70,732.60 L768.00,732.60 Q769.80,732.60 769.80,734.40 L769.80,742.20 Q769.80,744.00 768.00,744.00 L753.70,744.00 L747.20,741.90 C745.70,741.30 744.20,740.50 744.20,738.30 Z" fill="none" stroke="#111111" stroke-width="2.0" stroke-linejoin="round"/>
<path d="M742.10,744.60 L752.70,747.90 L769.20,747.90 Q770.70,747.90 771.50,746.90" fill="none" stroke="#111111" stroke-width="1.2"/>
<path d="M804.20,738.30 C804.20,736.10 805.70,735.30 807.20,734.70 L813.70,732.60 L828.00,732.60 Q829.80,732.60 829.80,734.40 L829.80,742.20 Q829.80,744.00 828.00,744.00 L813.70,744.00 L807.20,741.90 C805.70,741.30 804.20,740.50 804.20,738.30 Z" fill="none" stroke="#111111" stroke-width="2.0" stroke-linejoin="round"/>
<path d="M802.10,744.60 L812.70,747.90 L829.20,747.90 Q830.70,747.90 831.50,746.90" fill="none" stroke="#111111" stroke-width="1.2"/>
<path d="M864.90,738.30 C864.90,736.10 866.40,735.30 867.90,734.70 L874.40,732.60 L889.00,732.60 Q890.80,732.60 890.80,734.40 L890.80,742.20 Q890.80,744.00 889.00,744.00 L874.40,744.00 L867.90,741.90 C866.40,741.30 864.90,740.50 864.90,738.30 Z" fill="none" stroke="#111111" stroke-width="2.0" stroke-linejoin="round"/>
<path d="M862.80,744.60 L873.40,747.90 L890.20,747.90 Q891.70,747.90 892.50,746.90" fill="none" stroke="#111111" stroke-width="1.2"/>
<path d="M922.60,738.30 C922.60,736.10 924.10,735.30 925.60,734.70 L932.10,732.60 L946.60,732.60 Q948.40,732.60 948.40,734.40 L948.40,742.20 Q948.40,744.00 946.60,744.00 L932.10,744.00 L925.60,741.90 C924.10,741.30 922.60,740.50 922.60,738.30 Z" fill="none" stroke="#111111" stroke-width="2.0" stroke-linejoin="round"/>
<path d="M920.50,744.60 L931.10,747.90 L947.80,747.90 Q949.30,747.90 950.10,746.90" fill="none" stroke="#111111" stroke-width="1.2"/>
<path d="M436.90,764.90 C436.90,762.70 438.40,761.90 439.90,761.30 L446.40,759.20 L461.30,759.20 Q463.10,759.20 463.10,761.00 L463.10,768.80 Q463.10,770.60 461.30,770.60 L446.40,770.60 L439.90,768.50 C438.40,767.90 436.90,767.10 436.90,764.90 Z" fill="none" stroke="#111111" stroke-width="2.0" stroke-linejoin="round"/>
<path d="M434.80,771.20 L445.40,774.50 L462.50,774.50 Q464.00,774.50 464.80,773.50" fill="none" stroke="#111111" stroke-width="1.2"/>
<path d="M498.60,764.90 C498.60,762.70 500.10,761.90 501.60,761.30 L508.10,759.20 L523.00,759.20 Q524.80,759.20 524.80,761.00 L524.80,768.80 Q524.80,770.60 523.00,770.60 L508.10,770.60 L501.60,768.50 C500.10,767.90 498.60,767.10 498.60,764.90 Z" fill="none" stroke="#111111" stroke-width="2.0" stroke-linejoin="round"/>
<path d="M496.50,771.20 L507.10,774.50 L524.20,774.50 Q525.70,774.50 526.50,773.50" fill="none" stroke="#111111" stroke-width="1.2"/>
<path d="M560.20,764.90 C560.20,762.70 561.70,761.90 563.20,761.30 L569.70,759.20 L584.00,759.20 Q585.80,759.20 585.80,761.00 L585.80,768.80 Q585.80,770.60 584.00,770.60 L569.70,770.60 L563.20,768.50 C561.70,767.90 560.20,767.10 560.20,764.90 Z" fill="none" stroke="#111111" stroke-width="2.0" stroke-linejoin="round"/>
<path d="M558.10,771.20 L568.70,774.50 L585.20,774.50 Q586.70,774.50 587.50,773.50" fill="none" stroke="#111111" stroke-width="1.2"/>
<path d="M621.60,764.90 C621.60,762.70 623.10,761.90 624.60,761.30 L631.10,759.20 L645.60,759.20 Q647.40,759.20 647.40,761.00 L647.40,768.80 Q647.40,770.60 645.60,770.60 L631.10,770.60 L624.60,768.50 C623.10,767.90 621.60,767.10 621.60,764.90 Z" fill="none" stroke="#111111" stroke-width="2.0" stroke-linejoin="round"/>
<path d="M619.50,771.20 L630.10,774.50 L646.80,774.50 Q648.30,774.50 649.10,773.50" fill="none" stroke="#111111" stroke-width="1.2"/>
<path d="M683.20,764.90 C683.20,762.70 684.70,761.90 686.20,761.30 L692.70,759.20 L706.60,759.20 Q708.40,759.20 708.40,761.00 L708.40,768.80 Q708.40,770.60 706.60,770.60 L692.70,770.60 L686.20,768.50 C684.70,767.90 683.20,767.10 683.20,764.90 Z" fill="none" stroke="#111111" stroke-width="2.0" stroke-linejoin="round"/>
<path d="M681.10,771.20 L691.70,774.50 L707.80,774.50 Q709.30,774.50 710.10,773.50" fill="none" stroke="#111111" stroke-width="1.2"/>
<path d="M744.20,764.90 C744.20,762.70 745.70,761.90 747.20,761.30 L753.70,759.20 L768.00,759.20 Q769.80,759.20 769.80,761.00 L769.80,768.80 Q769.80,770.60 768.00,770.60 L753.70,770.60 L747.20,768.50 C745.70,767.90 744.20,767.10 744.20,764.90 Z" fill="none" stroke="#111111" stroke-width="2.0" stroke-linejoin="round"/>
<path d="M742.10,771.20 L752.70,774.50 L769.20,774.50 Q770.70,774.50 771.50,773.50" fill="none" stroke="#111111" stroke-width="1.2"/>
<path d="M804.20,764.90 C804.20,762.70 805.70,761.90 807.20,761.30 L813.70,759.20 L828.00,759.20 Q829.80,759.20 829.80,761.00 L829.80,768.80 Q829.80,770.60 828.00,770.60 L813.70,770.60 L807.20,768.50 C805.70,767.90 804.20,767.10 804.20,764.90 Z" fill="none" stroke="#111111" stroke-width="2.0" stroke-linejoin="round"/>
<path d="M802.10,771.20 L812.70,774.50 L829.20,774.50 Q830.70,774.50 831.50,773.50" fill="none" stroke="#111111" stroke-width="1.2"/>
<path d="M864.90,764.90 C864.90,762.70 866.40,761.90 867.90,761.30 L874.40,759.20 L889.00,759.20 Q890.80,759.20 890.80,761.00 L890.80,768.80 Q890.80,770.60 889.00,770.60 L874.40,770.60 L867.90,768.50 C866.40,767.90 864.90,767.10 864.90,764.90 Z" fill="none" stroke="#111111" stroke-width="2.0" stroke-linejoin="round"/>
<path d="M862.80,771.20 L873.40,774.50 L890.20,774.50 Q891.70,774.50 892.50,773.50" fill="none" stroke="#111111" stroke-width="1.2"/>
<path d="M225,885.8 L1085.8,884.6 C1072,925 1052,948 1018.8,948.2 L316,948.2 C268,948.2 236,928 225,885.8 Z" fill="#fff" stroke="#111111" stroke-width="2.1" stroke-linejoin="round"/>
<path d="M253.7,927.5 C266,935 282,939.8 302,940 L1008,940.2 C1036,940 1055,930 1073.5,907.5" fill="none" stroke="#111111" stroke-width="1.3" stroke-linejoin="round" stroke-linecap="round"/>
<path d="M341.7,890.2 L360,879.4 L962.5,879.4 L976.7,890.2" fill="#fff" stroke="#111111" stroke-width="2.1" stroke-linejoin="round"/>
<path d="M353.7,890.20 L965.5,890.20" fill="none" stroke="#111111" stroke-width="1.4" stroke-linejoin="round" stroke-linecap="round"/>
<path d="M320.80,899.50 L312.30,899.50 L328.90,929.30" fill="none" stroke="#111111" stroke-width="1.8" stroke-linejoin="miter"/>
<path d="M422.80,899.50 L414.30,899.50 L430.90,929.30" fill="none" stroke="#111111" stroke-width="1.8" stroke-linejoin="miter"/>
<path d="M526.80,899.50 L518.30,899.50 L534.90,929.30" fill="none" stroke="#111111" stroke-width="1.8" stroke-linejoin="miter"/>
<path d="M625.20,899.50 L616.70,899.50 L633.30,929.30" fill="none" stroke="#111111" stroke-width="1.8" stroke-linejoin="miter"/>
<path d="M726.80,899.50 L718.30,899.50 L734.90,929.30" fill="none" stroke="#111111" stroke-width="1.8" stroke-linejoin="miter"/>
<path d="M822.80,899.50 L814.30,899.50 L830.90,929.30" fill="none" stroke="#111111" stroke-width="1.8" stroke-linejoin="miter"/>
<path d="M920.20,899.50 L911.70,899.50 L928.30,929.30" fill="none" stroke="#111111" stroke-width="1.8" stroke-linejoin="miter"/>
<path d="M1014.75,899.50 L1006.25,899.50 L1022.85,929.30" fill="none" stroke="#111111" stroke-width="1.8" stroke-linejoin="miter"/>
<path d="M224,1029.2 L1084.8,1029.2 L1060.4,1077 C1048,1098 1030,1118.8 998,1118.8 L320,1118.8 C296,1118.8 281,1112 265.7,1095.5 Q241.5,1063.5 224,1029.2 Z" fill="#fff" stroke="#111111" stroke-width="2.1" stroke-linejoin="round"/>
<path d="M265.5,1096 C280,1106 295,1110.8 312,1110.6 L998,1110.6 C1025,1110.4 1045,1098 1059.8,1077.5" fill="none" stroke="#111111" stroke-width="1.3" stroke-linejoin="round" stroke-linecap="round"/>
<path d="M338.3,1033.3 L354.7,1022.7 L955.2,1022.7 L968.3,1032.5" fill="#fff" stroke="#111111" stroke-width="2.1" stroke-linejoin="round"/>
<path d="M348.3,1033.29 L961.5,1032.51" fill="none" stroke="#111111" stroke-width="1.4" stroke-linejoin="round" stroke-linecap="round"/>
<path d="M346.80,1048.30 L338.30,1048.30 L364.30,1093.30" fill="none" stroke="#111111" stroke-width="1.8" stroke-linejoin="miter"/>
<path d="M450.20,1048.30 L441.70,1048.30 L467.70,1093.30" fill="none" stroke="#111111" stroke-width="1.8" stroke-linejoin="miter"/>
<path d="M546.20,1048.30 L537.70,1048.30 L563.70,1093.30" fill="none" stroke="#111111" stroke-width="1.8" stroke-linejoin="miter"/>
<path d="M646.20,1048.30 L637.70,1048.30 L663.70,1093.30" fill="none" stroke="#111111" stroke-width="1.8" stroke-linejoin="miter"/>
<path d="M746.80,1048.30 L738.30,1048.30 L764.30,1093.30" fill="none" stroke="#111111" stroke-width="1.8" stroke-linejoin="miter"/>
<path d="M842.80,1048.30 L834.30,1048.30 L860.30,1093.30" fill="none" stroke="#111111" stroke-width="1.8" stroke-linejoin="miter"/>
<path d="M939.20,1048.30 L930.70,1048.30 L956.70,1093.30" fill="none" stroke="#111111" stroke-width="1.8" stroke-linejoin="miter"/>
<line x1="181.9" y1="207.8" x2="181.9" y2="260.5" stroke="#d3141d" stroke-width="1.35"/>
<path d="M181.9,199.3 L186.20000000000002,209.8 L181.9,208.0 L177.6,209.8 Z" fill="#d3141d"/>
<path d="M181.9,269.0 L186.20000000000002,258.5 L181.9,260.3 L177.6,258.5 Z" fill="#d3141d"/>
<line x1="1117.3" y1="208.5" x2="1117.3" y2="260.5" stroke="#d3141d" stroke-width="1.35"/>
<path d="M1117.3,200.0 L1121.6,210.5 L1117.3,208.7 L1113.0,210.5 Z" fill="#d3141d"/>
<path d="M1117.3,269.0 L1121.6,258.5 L1117.3,260.3 L1113.0,258.5 Z" fill="#d3141d"/>
<line x1="181.9" y1="346.0" x2="181.9" y2="434.5" stroke="#a0a0a3" stroke-width="1.35"/>
<path d="M181.9,337.5 L186.20000000000002,348.0 L181.9,346.2 L177.6,348.0 Z" fill="#a0a0a3"/>
<path d="M181.9,443.0 L186.20000000000002,432.5 L181.9,434.3 L177.6,432.5 Z" fill="#a0a0a3"/>
<line x1="1117.3" y1="345.0" x2="1117.3" y2="434.5" stroke="#a0a0a3" stroke-width="1.35"/>
<path d="M1117.3,336.5 L1121.6,347.0 L1117.3,345.2 L1113.0,347.0 Z" fill="#a0a0a3"/>
<path d="M1117.3,443.0 L1121.6,432.5 L1117.3,434.3 L1113.0,432.5 Z" fill="#a0a0a3"/>
<line x1="181.9" y1="538.0" x2="181.9" y2="606.5" stroke="#d3141d" stroke-width="1.35"/>
<path d="M181.9,529.5 L186.20000000000002,540.0 L181.9,538.2 L177.6,540.0 Z" fill="#d3141d"/>
<path d="M181.9,615.0 L186.20000000000002,604.5 L181.9,606.3 L177.6,604.5 Z" fill="#d3141d"/>
<line x1="1117.3" y1="537.5" x2="1117.3" y2="592.5" stroke="#d3141d" stroke-width="1.35"/>
<path d="M1117.3,529.0 L1121.6,539.5 L1117.3,537.7 L1113.0,539.5 Z" fill="#d3141d"/>
<path d="M1117.3,601.0 L1121.6,590.5 L1117.3,592.3 L1113.0,590.5 Z" fill="#d3141d"/>
<line x1="181.9" y1="698.5" x2="181.9" y2="798.5" stroke="#a0a0a3" stroke-width="1.35"/>
<path d="M181.9,690.0 L186.20000000000002,700.5 L181.9,698.7 L177.6,700.5 Z" fill="#a0a0a3"/>
<path d="M181.9,807.0 L186.20000000000002,796.5 L181.9,798.3 L177.6,796.5 Z" fill="#a0a0a3"/>
<line x1="1117.3" y1="700.5" x2="1117.3" y2="786.5" stroke="#a0a0a3" stroke-width="1.35"/>
<path d="M1117.3,692.0 L1121.6,702.5 L1117.3,700.7 L1113.0,702.5 Z" fill="#a0a0a3"/>
<path d="M1117.3,795.0 L1121.6,784.5 L1117.3,786.3 L1113.0,784.5 Z" fill="#a0a0a3"/>
<line x1="181.9" y1="895.5" x2="181.9" y2="938.5" stroke="#d3141d" stroke-width="1.35"/>
<path d="M181.9,887.0 L186.20000000000002,897.5 L181.9,895.7 L177.6,897.5 Z" fill="#d3141d"/>
<path d="M181.9,947.0 L186.20000000000002,936.5 L181.9,938.3 L177.6,936.5 Z" fill="#d3141d"/>
<line x1="1117.3" y1="894.5" x2="1117.3" y2="938.5" stroke="#d3141d" stroke-width="1.35"/>
<path d="M1117.3,886.0 L1121.6,896.5 L1117.3,894.7 L1113.0,896.5 Z" fill="#d3141d"/>
<path d="M1117.3,947.0 L1121.6,936.5 L1117.3,938.3 L1113.0,936.5 Z" fill="#d3141d"/>
<line x1="181.9" y1="1042.9" x2="181.9" y2="1103.5" stroke="#a0a0a3" stroke-width="1.35"/>
<path d="M181.9,1034.4 L186.20000000000002,1044.9 L181.9,1043.1000000000001 L177.6,1044.9 Z" fill="#a0a0a3"/>
<path d="M181.9,1112.0 L186.20000000000002,1101.5 L181.9,1103.3 L177.6,1101.5 Z" fill="#a0a0a3"/>
<line x1="1117.3" y1="1043.9" x2="1117.3" y2="1107.1" stroke="#a0a0a3" stroke-width="1.35"/>
<path d="M1117.3,1035.4 L1121.6,1045.9 L1117.3,1044.1000000000001 L1113.0,1045.9 Z" fill="#a0a0a3"/>
<path d="M1117.3,1115.6 L1121.6,1105.1 L1117.3,1106.8999999999999 L1113.0,1105.1 Z" fill="#a0a0a3"/>
<text transform="scale(0.8,1)" x="493.06" y="87.50" font-weight="bold" font-size="42.59" letter-spacing="2.871" fill="#111111" stroke="#111111" stroke-width="1.1" stroke-linejoin="round">RB RUNNING BOARDS</text>
<text transform="scale(1.06,1)" x="62.67" y="126.70" font-weight="bold" font-size="18.31" letter-spacing="1.367" fill="#111111" stroke="#111111" stroke-width="0.25" stroke-linejoin="round">AVAILABLE IN 48" - 87" LENGTHS</text>
<text transform="scale(1.06,1)" x="435.85" y="126.70" font-weight="bold" font-size="18.31" letter-spacing="1.164" fill="#111111" stroke="#111111" stroke-width="0.25" stroke-linejoin="round">TEXTURED BLACK FINISH OR PROTECTIVE BEDLINER COATING</text>
<text transform="scale(0.88,1)" x="84.86" y="231.00" font-weight="bold" font-size="29.80" letter-spacing="1.742" fill="#d3141d" stroke="#d3141d" stroke-width="0.8" stroke-linejoin="round">RB30</text>
<text transform="scale(0.75,1)" x="118.17" y="256.00" font-weight="normal" font-size="20.49" letter-spacing="3.867" fill="#d3141d" stroke="#d3141d" stroke-width="0.9" stroke-linejoin="round">SLIM</text>
<text transform="scale(0.88,1)" x="83.73" y="390.00" font-weight="bold" font-size="29.07" letter-spacing="2.326" fill="#111111" stroke="#111111" stroke-width="0.8" stroke-linejoin="round">RB30</text>
<text transform="scale(0.75,1)" x="87.50" y="415.40" font-weight="normal" font-size="20.64" letter-spacing="2.607" fill="#111111" stroke="#111111" stroke-width="0.9" stroke-linejoin="round">ORIGINAL</text>
<text transform="scale(0.88,1)" x="83.73" y="569.50" font-weight="bold" font-size="29.07" letter-spacing="2.326" fill="#d3141d" stroke="#d3141d" stroke-width="0.8" stroke-linejoin="round">RB20</text>
<text transform="scale(0.75,1)" x="116.17" y="591.10" font-weight="normal" font-size="20.49" letter-spacing="4.000" fill="#d3141d" stroke="#d3141d" stroke-width="0.9" stroke-linejoin="round">SLIM</text>
<text transform="scale(0.88,1)" x="84.52" y="745.80" font-weight="bold" font-size="28.78" letter-spacing="2.083" fill="#111111" stroke="#111111" stroke-width="0.8" stroke-linejoin="round">RB20</text>
<text transform="scale(0.75,1)" x="87.50" y="770.70" font-weight="normal" font-size="20.64" letter-spacing="2.702" fill="#111111" stroke="#111111" stroke-width="0.9" stroke-linejoin="round">ORIGINAL</text>
<text transform="scale(0.88,1)" x="84.52" y="915.40" font-weight="bold" font-size="27.62" letter-spacing="3.000" fill="#d3141d" stroke="#d3141d" stroke-width="0.8" stroke-linejoin="round">RB10</text>
<text transform="scale(0.75,1)" x="116.70" y="937.40" font-weight="normal" font-size="20.49" letter-spacing="3.822" fill="#d3141d" stroke="#d3141d" stroke-width="0.9" stroke-linejoin="round">SLIM</text>
<text transform="scale(0.88,1)" x="84.52" y="1072.00" font-weight="bold" font-size="28.34" letter-spacing="2.417" fill="#111111" stroke="#111111" stroke-width="0.8" stroke-linejoin="round">RB10</text>
<text transform="scale(0.75,1)" x="87.50" y="1097.20" font-weight="normal" font-size="20.64" letter-spacing="2.702" fill="#111111" stroke="#111111" stroke-width="0.9" stroke-linejoin="round">ORIGINAL</text>
<text transform="scale(0.88,1)" x="202.57" y="296.40" font-weight="bold" font-size="19.33" letter-spacing="0.455" fill="#d3141d" stroke="#d3141d" stroke-width="0.25" stroke-linejoin="round">5" at widest point</text>
<text transform="scale(0.88,1)" x="202.66" y="471.20" font-weight="bold" font-size="19.33" letter-spacing="0.162" fill="#6f7073" stroke="#6f7073" stroke-width="0.25" stroke-linejoin="round">7" at widest point</text>
<text transform="scale(0.88,1)" x="202.91" y="640.10" font-weight="bold" font-size="19.33" letter-spacing="0.516" fill="#d3141d" stroke="#d3141d" stroke-width="0.25" stroke-linejoin="round">5.5" at widest point</text>
<text transform="scale(0.88,1)" x="202.89" y="837.00" font-weight="bold" font-size="19.33" letter-spacing="0.200" fill="#6f7073" stroke="#6f7073" stroke-width="0.25" stroke-linejoin="round">7.5" at widest point</text>
<text transform="scale(0.88,1)" x="202.36" y="975.20" font-weight="bold" font-size="19.33" letter-spacing="0.413" fill="#d3141d" stroke="#d3141d" stroke-width="0.25" stroke-linejoin="round">4" at widest point</text>
<text transform="scale(0.88,1)" x="202.11" y="1144.10" font-weight="bold" font-size="19.33" letter-spacing="0.234" fill="#6f7073" stroke="#6f7073" stroke-width="0.25" stroke-linejoin="round">6" at widest point</text>
<text transform="scale(0.88,1)" x="1263.95" y="296.00" font-weight="bold" font-size="19.62" letter-spacing="-0.250" fill="#d3141d" stroke="#d3141d" stroke-width="0.45" stroke-linejoin="round">5"</text>
<text transform="scale(0.88,1)" x="1263.70" y="471.00" font-weight="bold" font-size="19.62" letter-spacing="-0.568" fill="#6f7073" stroke="#6f7073" stroke-width="0.45" stroke-linejoin="round">7"</text>
<text transform="scale(0.88,1)" x="1254.55" y="630.20" font-weight="bold" font-size="18.17" letter-spacing="1.879" fill="#d3141d" stroke="#d3141d" stroke-width="0.45" stroke-linejoin="round">4.5"</text>
<text transform="scale(0.88,1)" x="1255.20" y="821.00" font-weight="bold" font-size="18.17" letter-spacing="1.470" fill="#6f7073" stroke="#6f7073" stroke-width="0.45" stroke-linejoin="round">5.5"</text>
<text transform="scale(0.88,1)" x="1263.64" y="975.00" font-weight="bold" font-size="18.90" letter-spacing="0.818" fill="#d3141d" stroke="#d3141d" stroke-width="0.45" stroke-linejoin="round">4"</text>
<text transform="scale(0.88,1)" x="1263.14" y="1143.75" font-weight="bold" font-size="18.82" letter-spacing="1.000" fill="#6f7073" stroke="#6f7073" stroke-width="0.45" stroke-linejoin="round">6"</text></svg></body></html>
